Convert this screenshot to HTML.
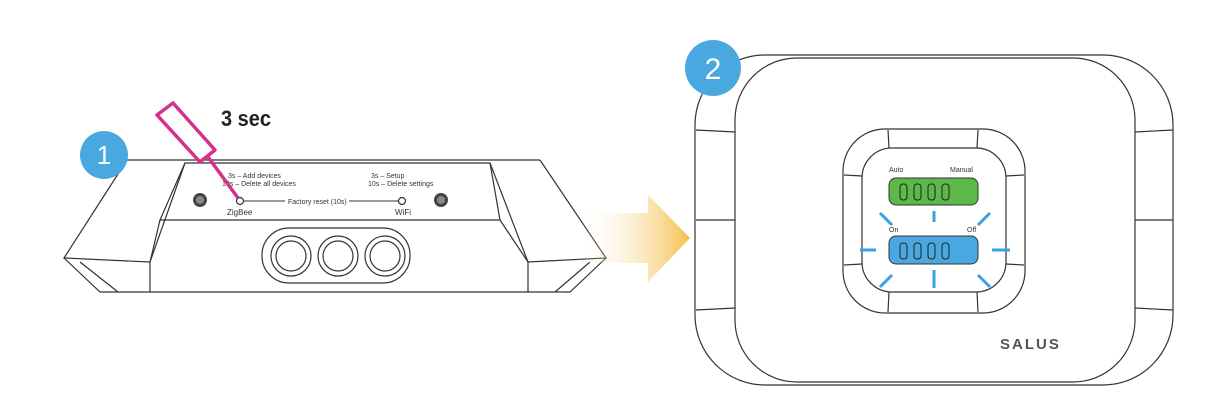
<!DOCTYPE html>
<html><head><meta charset="utf-8"><style>
html,body{margin:0;padding:0;background:#fff;width:1220px;height:410px;overflow:hidden}
svg{display:block}
text{font-family:"Liberation Sans",sans-serif}
</style></head><body>
<svg width="1220" height="410" viewBox="0 0 1220 410" xmlns="http://www.w3.org/2000/svg">
<defs>
<linearGradient id="ag" x1="0" x2="1" y1="0" y2="0">
<stop offset="0" stop-color="#fff" stop-opacity="0"/>
<stop offset="1" stop-color="#f4c04a"/>
</linearGradient>
</defs>
<g fill="none" stroke="#333" stroke-width="1.2">
<path d="M127,160 L540,160"/>
<path d="M127,160 L64,258 L150,262 L185,163"/>
<path d="M540,160 L606,258 L528,262 L490,163"/>
<path d="M185,163 L490,163 L500,220 L160,220 Z"/>
<path d="M160,220 L150,262 L150,292 L528,292 L528,262 L500,220"/>
<path d="M64,258 L100,292 L150,292"/>
<path d="M606,258 L570,292 L528,292"/>
<path d="M80,262 L118,292"/>
<path d="M590,262 L555,292"/>
<rect x="262" y="228" width="148" height="55" rx="27"/>
<circle cx="291" cy="256" r="20"/><circle cx="291" cy="256" r="15"/>
<circle cx="338" cy="256" r="20"/><circle cx="338" cy="256" r="15"/>
<circle cx="385" cy="256" r="20"/><circle cx="385" cy="256" r="15"/>
<circle cx="240" cy="201" r="3.5"/>
<circle cx="402" cy="201" r="3.5"/>
<path d="M244,201 H285 M349,201 H398" stroke-width="1"/>
</g>
<circle cx="200" cy="200" r="7" fill="#444"/><circle cx="200" cy="200" r="4" fill="#888"/>
<circle cx="441" cy="200" r="7" fill="#444"/><circle cx="441" cy="200" r="4" fill="#888"/>
<g font-size="7" fill="#333">
<text x="228" y="178">3s – Add devices</text>
<text x="222" y="186">10s – Delete all devices</text>
<text x="371" y="178">3s – Setup</text>
<text x="368" y="186">10s – Delete settings</text>
<text x="288" y="204">Factory reset (10s)</text>
<text x="227" y="215" font-size="8">ZigBee</text>
<text x="395" y="215" font-size="8">WiFi</text>
</g>
<text x="221" y="126" font-size="22" font-weight="bold" fill="#222" textLength="50" lengthAdjust="spacingAndGlyphs">3 sec</text>
<g fill="none" stroke="#d6308a" stroke-width="3.5" stroke-linejoin="round">
<path d="M157,115 L173,103 L215,150 L200,162 Z"/>
<path d="M208,157 L238,198"/>
</g>
<circle cx="104" cy="155" r="24" fill="#4aa8e0"/>
<text x="104" y="164" font-size="26" fill="#fff" text-anchor="middle">1</text>
<path d="M575,213 H648 V195 L690,238 L648,282 V263 H575 Z" fill="url(#ag)"/>
<g fill="none" stroke="#333" stroke-width="1.2">
<rect x="695" y="55" width="478" height="330" rx="70"/>
<rect x="735" y="58" width="400" height="324" rx="62"/>
<path d="M696,130 L735,132 M696,220 H735 M696,310 L735,308 M1135,132 L1173,130 M1135,220 H1173 M1135,308 L1173,310"/>
<rect x="843" y="129" width="182" height="184" rx="42"/>
<rect x="862" y="148" width="144" height="144" rx="30"/>
<path d="M888,130 L889,148 M978,130 L977,148 M888,312 L889,292 M978,312 L977,292 M844,175 L862,176 M844,265 L862,264 M1024,175 L1006,176 M1024,265 L1006,264"/>
</g>
<rect x="889" y="178" width="89" height="27" rx="7" fill="#5cb848" stroke="#333"/>
<rect x="889" y="236" width="89" height="28" rx="7" fill="#4aa8e0" stroke="#333"/>
<g fill="none" stroke="#222" stroke-width="1">
<rect x="900" y="184" width="7" height="16" rx="3"/><rect x="914" y="184" width="7" height="16" rx="3"/><rect x="928" y="184" width="7" height="16" rx="3"/><rect x="942" y="184" width="7" height="16" rx="3"/>
<rect x="900" y="243" width="7" height="16" rx="3"/><rect x="914" y="243" width="7" height="16" rx="3"/><rect x="928" y="243" width="7" height="16" rx="3"/><rect x="942" y="243" width="7" height="16" rx="3"/>
</g>
<g stroke="#3aa0e0" stroke-width="3" fill="none">
<path d="M934,211 V222 M934,270 V288 M860,250 H876 M992,250 H1010 M880,213 L892,225 M990,213 L978,225 M880,287 L892,275 M990,287 L978,275"/>
</g>
<g font-size="7" fill="#333">
<text x="889" y="172">Auto</text>
<text x="950" y="172">Manual</text>
<text x="889" y="232">On</text>
<text x="967" y="232">Off</text>
</g>
<text x="1000" y="349" font-size="15" font-weight="bold" fill="#555" letter-spacing="2">SALUS</text>
<circle cx="713" cy="68" r="28" fill="#4aa8e0"/>
<text x="713" y="79" font-size="30" fill="#fff" text-anchor="middle">2</text>
</svg>
</body></html>
